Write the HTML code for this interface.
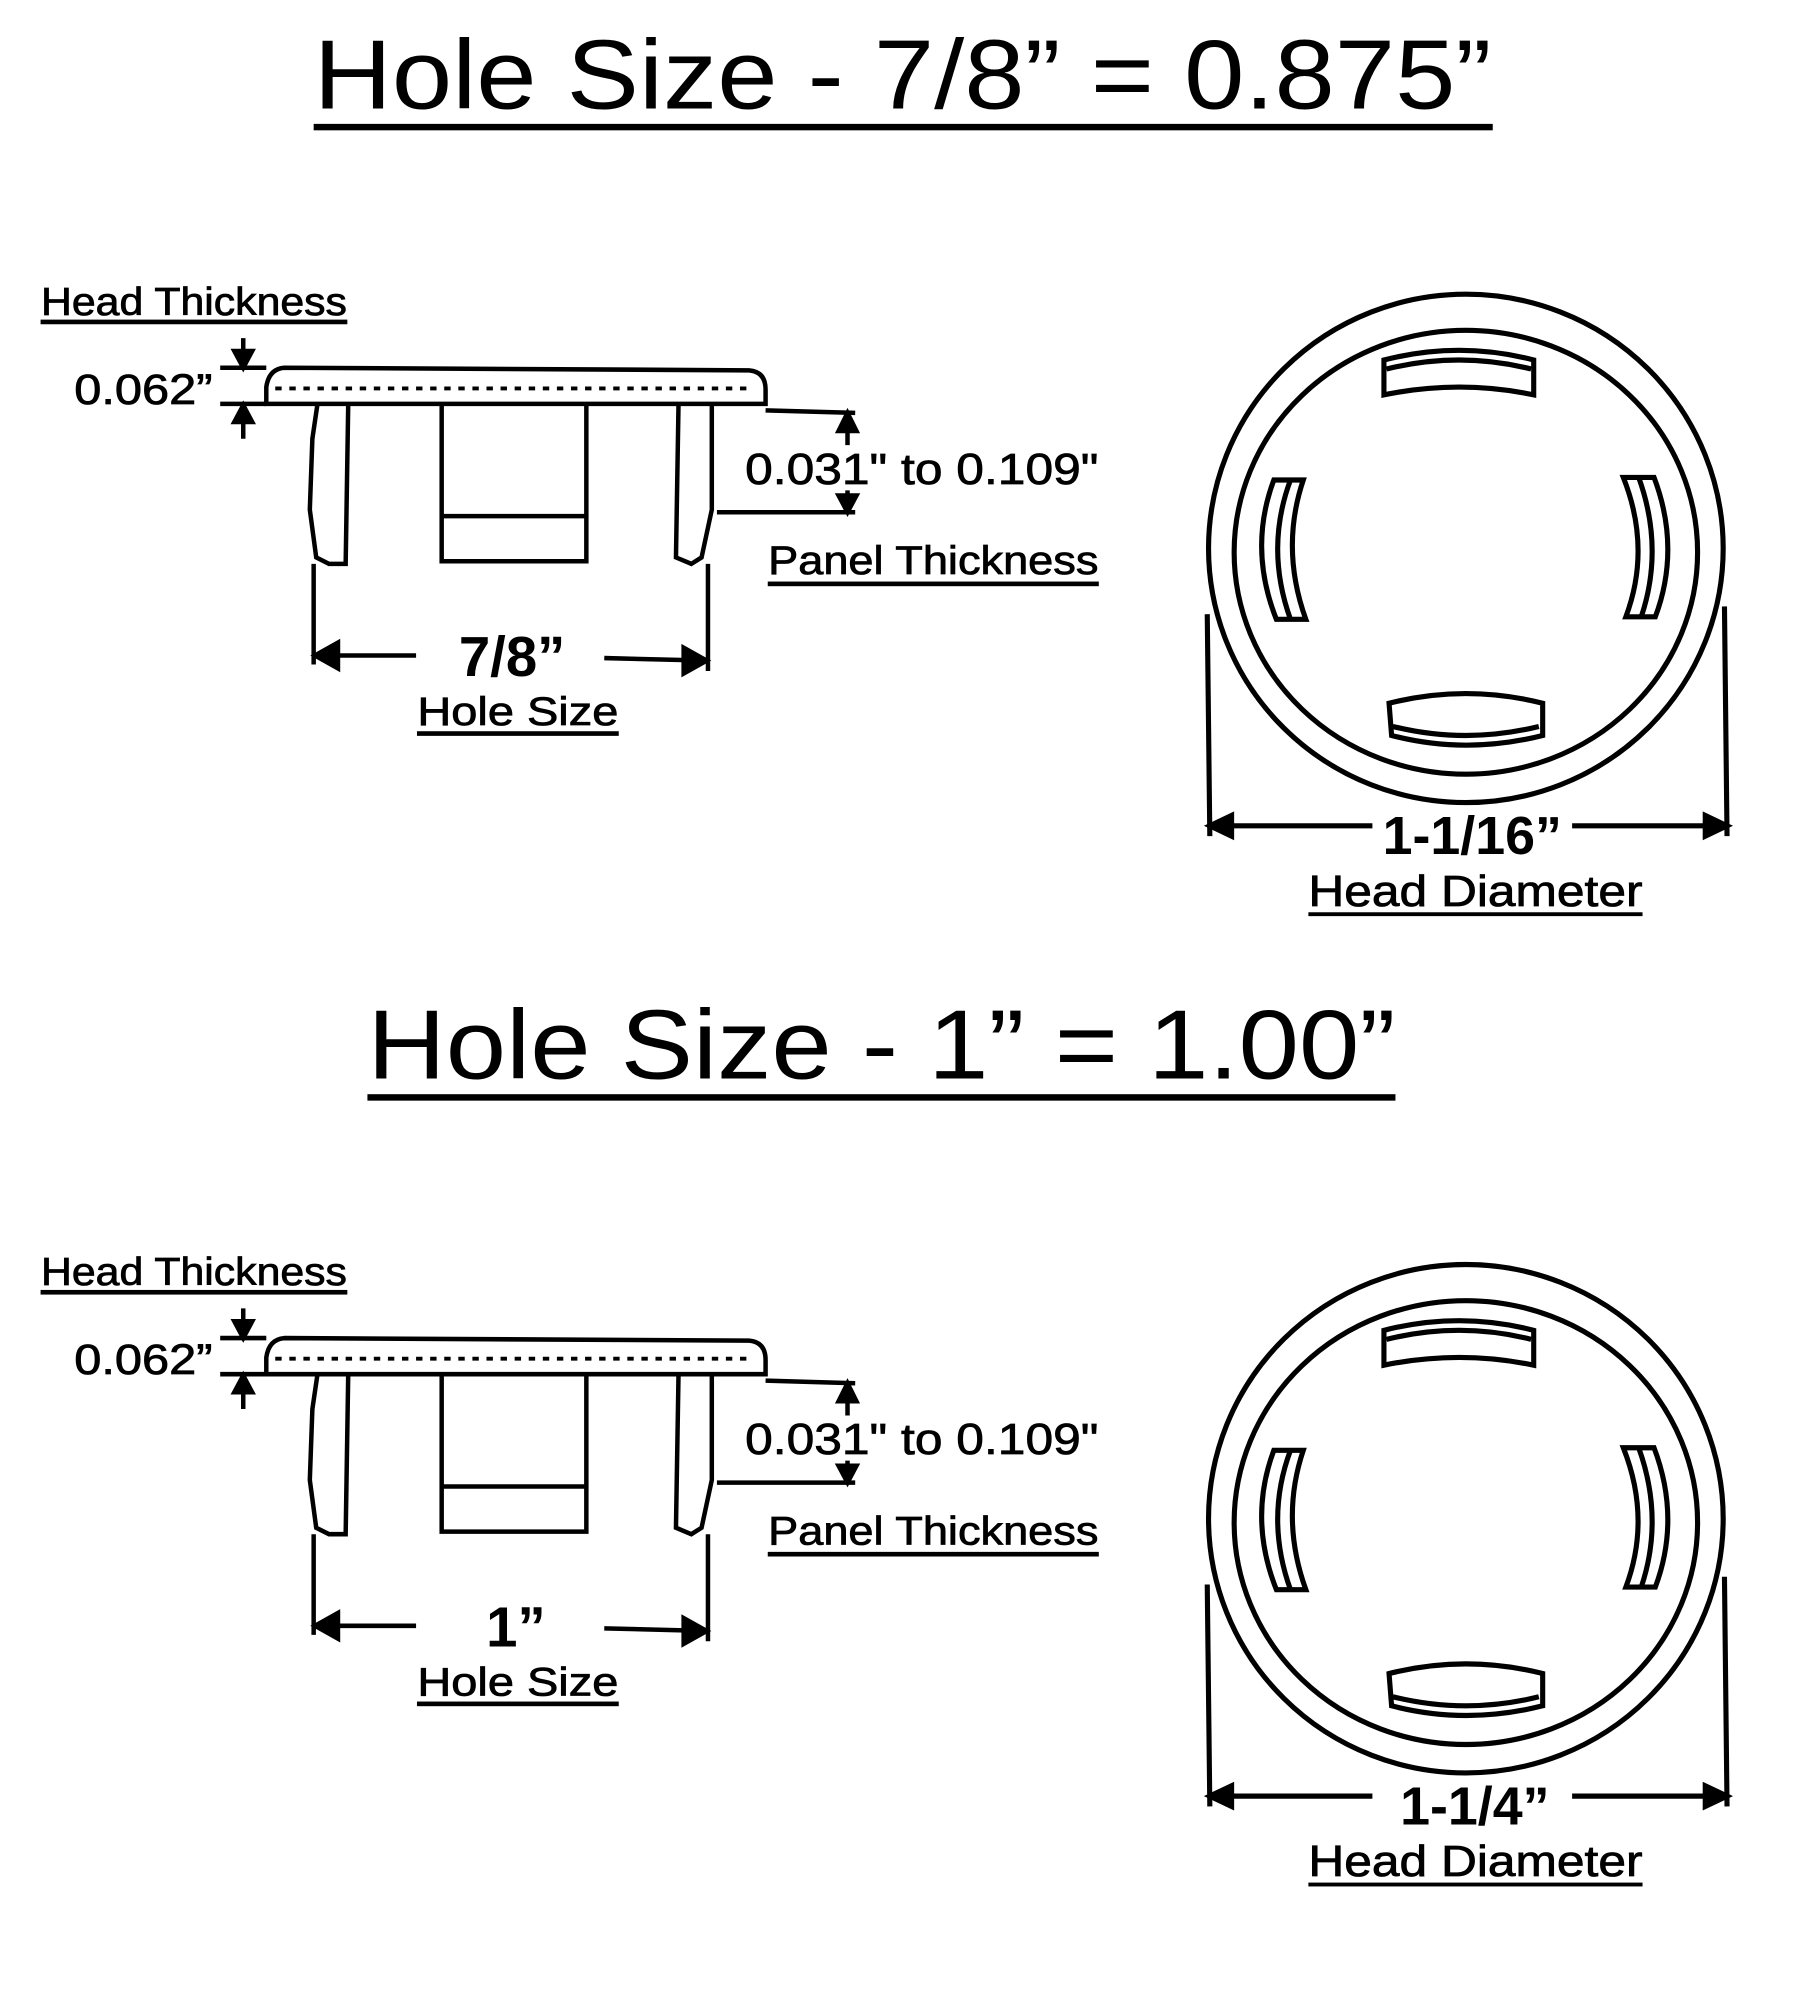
<!DOCTYPE html>
<html><head><style>html,body{margin:0;padding:0;background:#fff;}svg{display:block}</style></head>
<body>
<svg width="1800" height="2000" viewBox="0 0 1406 1550" preserveAspectRatio="none" xmlns="http://www.w3.org/2000/svg" font-family="Liberation Sans, Arial, sans-serif">
<defs>
<g id="side" stroke="#000" stroke-width="3.5" fill="none">
  <path d="M208 313 L208 300 Q210 286 222 285 L585 287 Q598 288 598 302 L598 313 Z" fill="#fff"/>
  <line x1="215" y1="301" x2="585" y2="301" stroke-dasharray="5 6" stroke-width="3"/>
  <path d="M248 313 L244 340 L242 395 L247 432 L257 437 L270 437 L272 313"/>
  <path d="M345 313 L345 435 L458 435 L458 313 M345 400 L458 400"/>
  <path d="M530 313 L528 432 L540 437 L548 432 L556 395 L556 313"/>
  <path d="M245 437 L245 515 M553 437 L553 520 M245 508 L325 508 M472 510 L553 512"/>
  <path d="M246 508 L264 498 L264 518 Z M552 512 L534 502 L534 522 Z" fill="#000"/>
  <path d="M190 262 L190 286 M172 285 L208 285 M172 313 L208 313 M190 314 L190 340"/>
  <path d="M190 285 L183 272 L197 272 Z M190 314 L183 327 L197 327 Z" fill="#000"/>
  <path d="M598 318 L668 320 M662 320 L662 345 M662 380 L662 397 M560 397 L668 397"/>
  <path d="M662 320 L655 334 L669 334 Z M662 397 L655 384 L669 384 Z" fill="#000"/>
  <g stroke="#000" stroke-width="0.6" fill="#000">
    <text x="32" y="244" font-size="30" textLength="239" lengthAdjust="spacingAndGlyphs">Head Thickness</text>
    <rect x="32" y="248" width="239" height="3"/>
    <text x="58" y="313" font-size="33" textLength="108" lengthAdjust="spacingAndGlyphs">0.062”</text>
    <text x="582" y="375" font-size="34" textLength="276" lengthAdjust="spacingAndGlyphs">0.031" to 0.109"</text>
    <text x="600" y="445" font-size="31" textLength="258" lengthAdjust="spacingAndGlyphs">Panel Thickness</text>
    <rect x="600" y="451" width="258" height="3"/>
    <text x="326" y="562" font-size="31" textLength="157" lengthAdjust="spacingAndGlyphs">Hole Size</text>
    <rect x="326" y="567" width="157" height="3"/>
  </g>
</g>
<g id="circshape" stroke="#000" stroke-width="4" fill="none">
  <ellipse cx="1145" cy="425" rx="201" ry="197"/>
  <ellipse cx="1145" cy="428" rx="181" ry="172"/>
  <path d="M1081 279 Q1140 264 1198 279 L1198 306 Q1140 294 1081 306 Z"/>
  <path d="M1083 286 Q1140 272 1196 286"/>
  <path d="M1085 545 Q1145 530 1205 545 L1205 570 Q1145 585 1087 570 Z"/>
  <path d="M1088 563 Q1145 577 1202 563"/>
  <path d="M995 372 L1018 372 Q1000 425 1020 480 L997 480 Q975 425 995 372 Z"/>
  <path d="M1008 372 Q988 425 1008 480"/>
  <path d="M1268 370 L1292 370 Q1313 425 1293 478 L1270 478 Q1290 425 1268 370 Z"/>
  <path d="M1280 370 Q1300 425 1282 478"/>
  <path d="M943 476 L945 648 M1347 470 L1349 648 M945 640 L1072 640 M1228 640 L1347 640"/>
  <path d="M945 640 L962 632 L962 648 Z M1349 640 L1332 632 L1332 648 Z" fill="#000"/>
</g>
</defs>

<text x="245" y="84" font-size="76" textLength="920" lengthAdjust="spacingAndGlyphs">Hole Size - 7/8” = 0.875”</text>
<rect x="245" y="96" width="921" height="5"/>
<use href="#side"/>
<text x="400" y="524" font-size="44" font-weight="bold" text-anchor="middle">7/8”</text>
<use href="#circshape"/>
<text x="1150" y="662" font-size="42" font-weight="bold" text-anchor="middle">1-1/16”</text>
<text x="1022" y="702" font-size="34" stroke="#000" stroke-width="0.6" textLength="261" lengthAdjust="spacingAndGlyphs">Head Diameter</text>
<rect x="1022" y="707" width="261" height="3"/>

<text x="287" y="836" font-size="76" textLength="803" lengthAdjust="spacingAndGlyphs">Hole Size - 1” = 1.00”</text>
<rect x="287" y="848" width="803" height="5"/>
<g transform="translate(0,752)">
  <use href="#side"/>
  <text x="403" y="524" font-size="44" font-weight="bold" text-anchor="middle">1”</text>
  <use href="#circshape"/>
  <text x="1152" y="662" font-size="42" font-weight="bold" text-anchor="middle">1-1/4”</text>
  <text x="1022" y="702" font-size="34" stroke="#000" stroke-width="0.6" textLength="261" lengthAdjust="spacingAndGlyphs">Head Diameter</text>
  <rect x="1022" y="707" width="261" height="3"/>
</g>
</svg>
</body></html>
